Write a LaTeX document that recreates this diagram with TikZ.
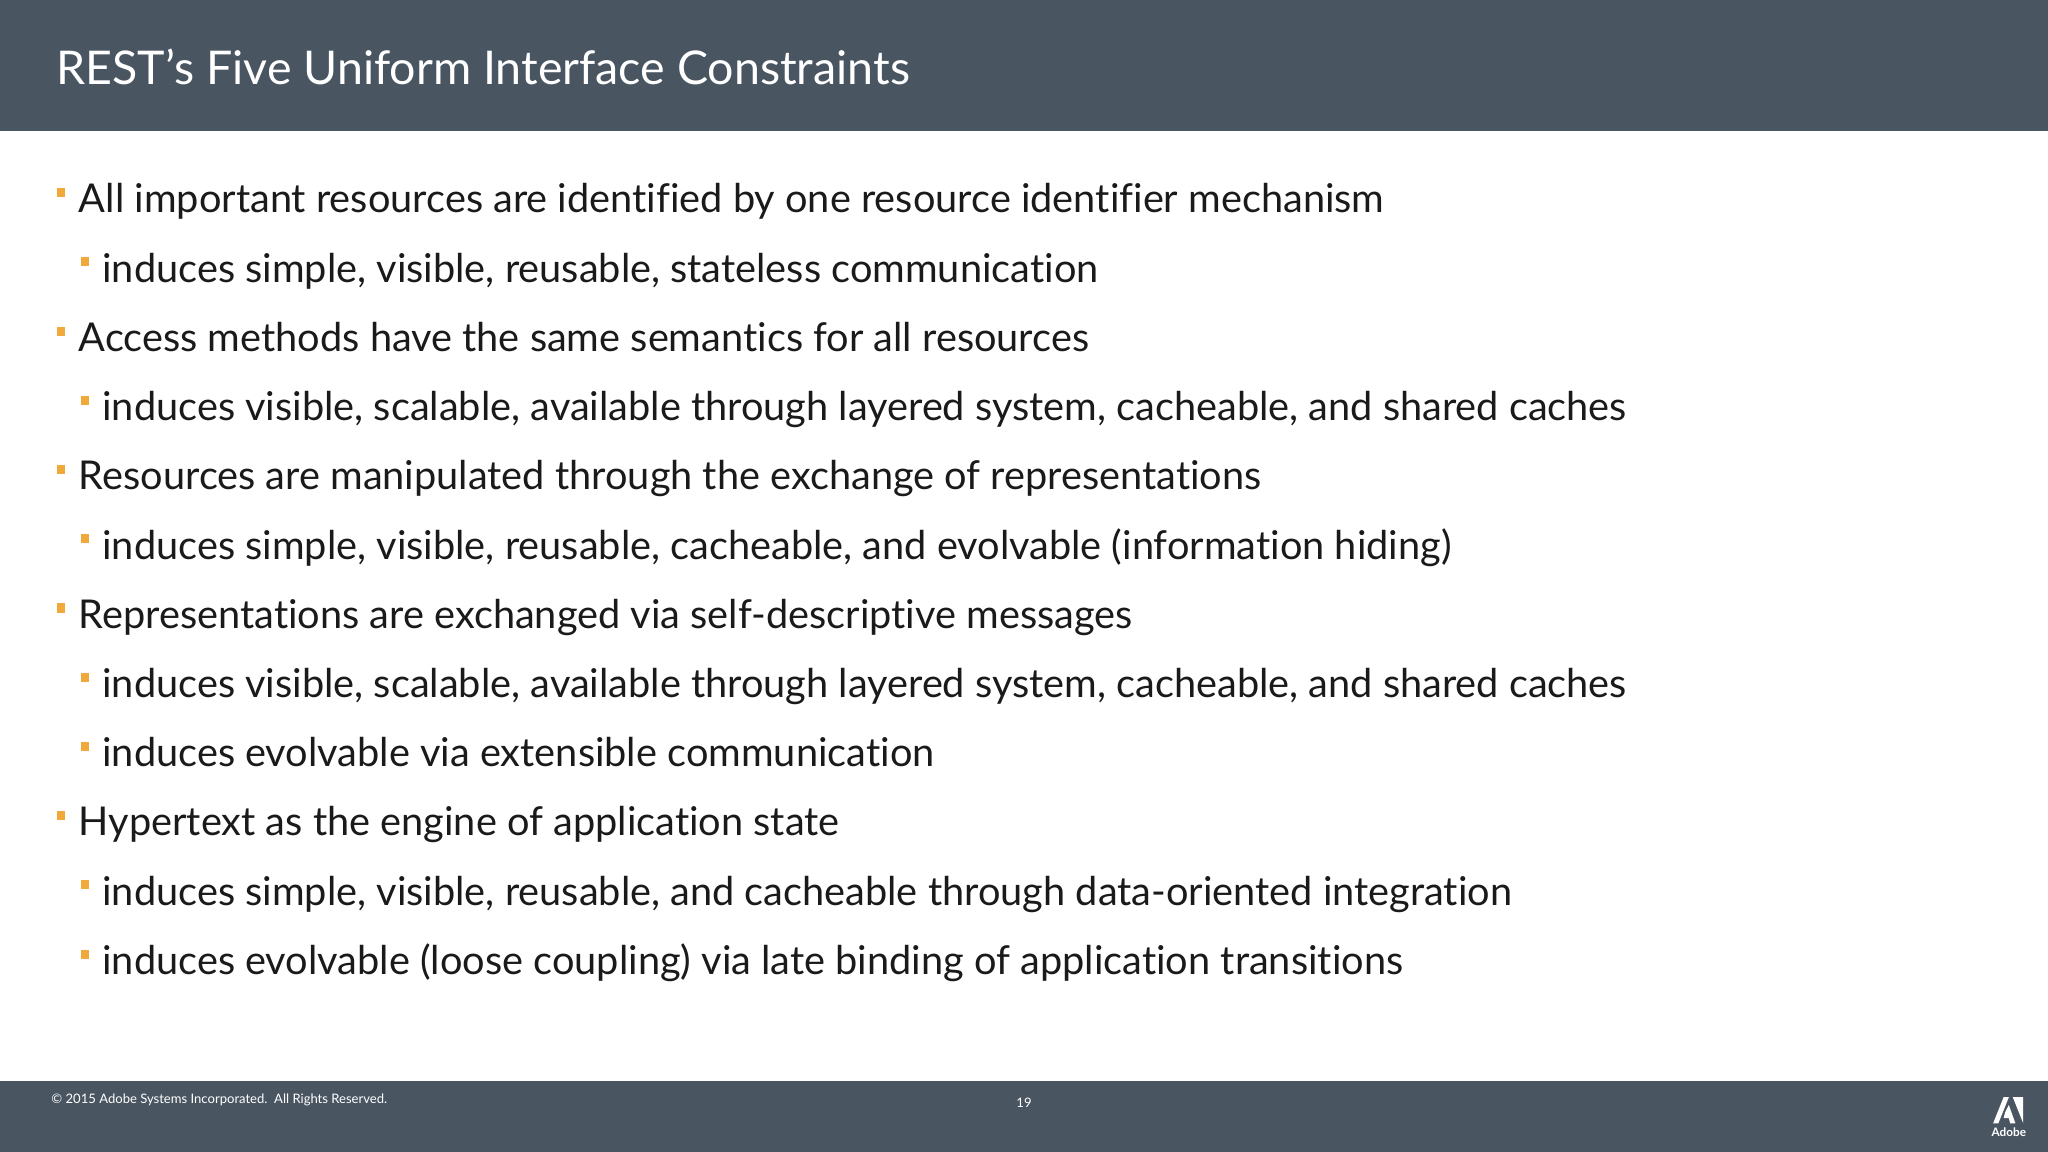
\documentclass[tikz,border=0pt]{standalone}
\usepackage{fontspec}
\setmainfont[RawFeature=-liga]{Lato}
\definecolor{bar}{HTML}{4A5562}
\definecolor{bul}{HTML}{F2A93B}
\definecolor{txt}{HTML}{1A1A1A}
\begin{document}
\begin{tikzpicture}[x=0.5pt,y=-0.5pt,
  lone/.style={anchor=base west,inner sep=0,font=\fontsize{15.2}{18}\selectfont,text=txt},
  bull/.style={fill=bul,draw=none}]
\useasboundingbox (0,0) rectangle (1568,882);
\fill[white] (0,0) rectangle (1568,882);
\fill[bar] (0,0) rectangle (1568,100);
\fill[bar] (0,828) rectangle (1568,882);
\node[anchor=base west,inner sep=0,text=white,font=\fontsize{17.8}{22}\selectfont] (title) at (43,65) {REST’s Five Uniform Interface Constraints};
\foreach \y/\lv/\t [count=\i] in {
154/1/All important resources are identified by one resource identifier mechanism,
207/2/{induces simple, visible, reusable, stateless communication},
260/1/Access methods have the same semantics for all resources,
313/2/{induces visible, scalable, available through layered system, cacheable, and shared caches},
366/1/Resources are manipulated through the exchange of representations,
419/2/{induces simple, visible, reusable, cacheable, and evolvable (information hiding)},
472/1/Representations are exchanged via self-descriptive messages,
525/2/{induces visible, scalable, available through layered system, cacheable, and shared caches},
578/2/induces evolvable via extensible communication,
631/1/Hypertext as the engine of application state,
684/2/{induces simple, visible, reusable, and cacheable through data-oriented integration},
737/2/induces evolvable (loose coupling) via late binding of application transitions}{
  \pgfmathsetmacro{\bx}{\lv==1 ? 44 : 62}
  \pgfmathsetmacro{\tx}{\lv==1 ? 60 : 78}
  \fill[bull] (\bx,\y-10) rectangle ++(6,7);
  \node[lone] (l\i) at (\tx,\y+9) {\t};
}
\node[anchor=west,inner sep=0,text=white,font=\fontsize{5}{6}\selectfont] (copy) at (39,842) {© 2015 Adobe Systems Incorporated.\ \ All Rights Reserved.};
\node[inner sep=0,text=white,font=\fontsize{5}{6}\selectfont] (pg) at (784,844) {19};
\fill[white] (1526,860) -- (1534,840) -- (1538,840) -- (1530,860) -- cycle;
\fill[white] (1541,840) -- (1549,840) -- (1549,860) -- cycle;
\fill[white] (1535,852) -- (1538,846) -- (1543,860) -- (1539,860) -- (1538,856) -- (1534,856) -- cycle;
\node[inner sep=0,text=white,font=\bfseries\fontsize{4.5}{5}\selectfont] (adobe) at (1538,867) {Adobe};
\end{tikzpicture}
\end{document}
